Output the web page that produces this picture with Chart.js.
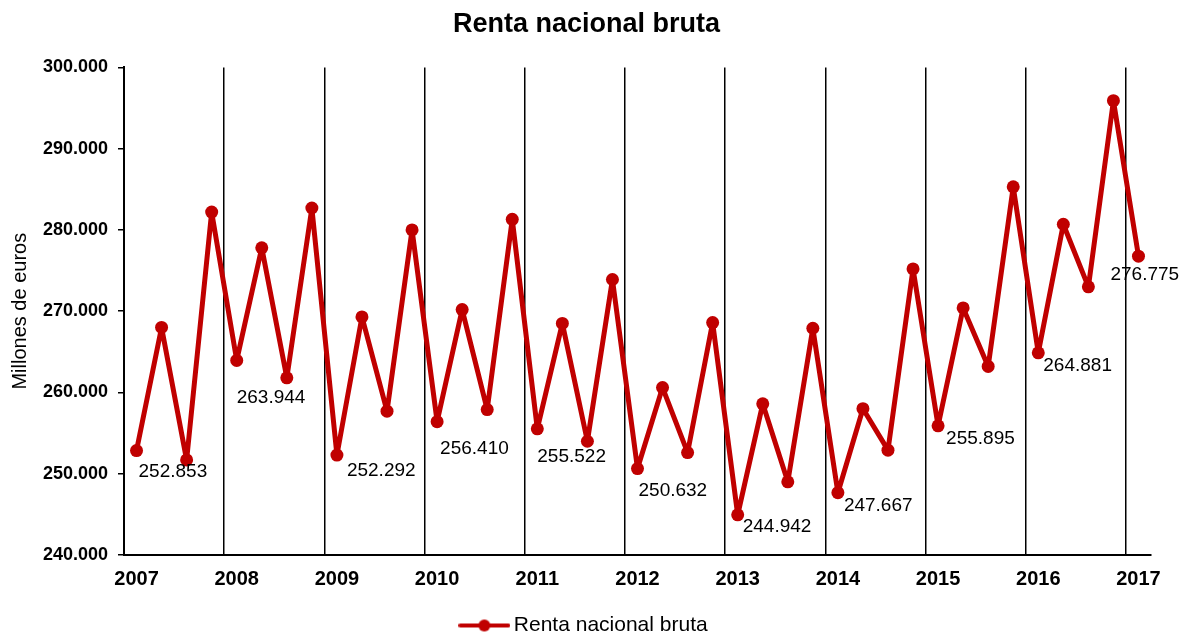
<!DOCTYPE html>
<html lang="es">
<head>
<meta charset="utf-8">
<title>Renta nacional bruta</title>
<script src="https://cdn.jsdelivr.net/npm/chart.js@4.4.1/dist/chart.umd.min.js"></script>
<style>
  html, body { margin: 0; padding: 0; background: #fff; }
  #wrap { position: relative; width: 1188px; height: 637px; }
</style>
</head>
<body>
<div id="wrap"><canvas id="rnbChart"></canvas></div>
<script>
// ── Data (millones de euros, trimestral) ─────────────────────────
const categories = [
    '2007 T1', '2007 T2', '2007 T3', '2007 T4',
    '2008 T1', '2008 T2', '2008 T3', '2008 T4',
    '2009 T1', '2009 T2', '2009 T3', '2009 T4',
    '2010 T1', '2010 T2', '2010 T3', '2010 T4',
    '2011 T1', '2011 T2', '2011 T3', '2011 T4',
    '2012 T1', '2012 T2', '2012 T3', '2012 T4',
    '2013 T1', '2013 T2', '2013 T3', '2013 T4',
    '2014 T1', '2014 T2', '2014 T3', '2014 T4',
    '2015 T1', '2015 T2', '2015 T3', '2015 T4',
    '2016 T1', '2016 T2', '2016 T3', '2016 T4',
    '2017 T1'
];

const rentaValues = [
    252853, 268000, 251700, 282200,
    263944, 277800, 261800, 282700,
    252292, 269300, 257700, 280000,
    256410, 270200, 257900, 281300,
    255522, 268500, 254000, 273900,
    250632, 260600, 252600, 268600,
    244942, 258600, 249000, 267900,
    247667, 258000, 252900, 275200,
    255895, 270400, 263200, 285300,
    264881, 280700, 273000, 295900,
    276775
];

const yearLabels = ['2007', '2008', '2009', '2010', '2011', '2012', '2013', '2014', '2015', '2016', '2017'];

const yMin  = 240000;
const yMax  = 300000;
const yStep = 10000;

(function () {
    'use strict';

    const FONT = "'Liberation Sans', Arial, Helvetica, sans-serif";
    const RED  = '#C00000';

    // thousands with a dot, e.g. 252853 -> 252.853
    function formatThousands(n) {
        return String(Math.round(n)).replace(/\B(?=(\d{3})+(?!\d))/g, '.');
    }

    // legend marker: line with a dot in the middle
    function makeLegendMarker() {
        const c = document.createElement('canvas');
        c.width = 52;
        c.height = 14;
        const g = c.getContext('2d');
        g.strokeStyle = RED;
        g.lineWidth = 4;
        g.lineCap = 'round';
        g.beginPath();
        g.moveTo(2, 7);
        g.lineTo(50, 7);
        g.stroke();
        g.fillStyle = RED;
        g.beginPath();
        g.arc(26, 7, 6, 0, Math.PI * 2);
        g.fill();
        return c;
    }

    // ── Value labels on the first quarter of each year ───────────
    const valueLabels = {
        id: 'valueLabels',
        afterDatasetsDraw(chart, args, opts) {
            const meta = chart.getDatasetMeta(0);
            const ctx = chart.ctx;
            ctx.save();
            ctx.font = opts.font;
            ctx.fillStyle = opts.color;
            ctx.textAlign = 'left';
            ctx.textBaseline = 'middle';
            opts.offsets.forEach(([i, dx, dy]) => {
                const pt = meta.data[i];
                if (!pt) return;
                ctx.fillText(formatThousands(rentaValues[i]), pt.x + dx, pt.y + dy);
            });
            ctx.restore();
        }
    };

    const marker = makeLegendMarker();

    new Chart(document.getElementById('rnbChart'), {
        type: 'line',
        data: {
            labels: categories,
            datasets: [{
                label: 'Renta nacional bruta',
                data: rentaValues,
                borderColor: RED,
                backgroundColor: RED,
                borderWidth: 5,
                borderJoinStyle: 'round',
                borderCapStyle: 'round',
                tension: 0,
                pointStyle: 'circle',
                pointRadius: 6.5,
                pointHoverRadius: 6.5,
                pointBackgroundColor: RED,
                pointBorderColor: RED,
                pointBorderWidth: 0,
                yAxisID: 'y',
            }],
        },
        options: {
            responsive: true,
            maintainAspectRatio: false,
            animation: false,
            devicePixelRatio: 1,
            layout: { padding: { left: 0, right: 15, top: 0, bottom: -9 } },
            plugins: {
                title: {
                    display: true,
                    text: 'Renta nacional bruta',
                    color: '#000',
                    font: { family: FONT, size: 27, weight: 'bold' },
                    padding: { top: 8, bottom: 27 },
                },
                legend: {
                    display: true,
                    position: 'bottom',
                    labels: {
                        color: '#000',
                        font: { family: FONT, size: 21 },
                        usePointStyle: true,
                        pointStyleWidth: 38,
                        padding: 2,
                        generateLabels: function () {
                            return [{
                                text: 'Renta nacional bruta',
                                pointStyle: marker,
                                fillStyle: RED,
                                strokeStyle: RED,
                                lineWidth: 0,
                                datasetIndex: 0,
                                fontColor: '#000',
                            }];
                        },
                    },
                },
                tooltip: { enabled: false },
                valueLabels: {
                    font: '19px ' + FONT,
                    color: '#000',
                    offsets: [
                        [0, 2, 21], [4, 0, 37], [8, 10, 16], [12, 3, 27],
                        [16, 0, 28], [20, 1, 22], [24, 5, 12], [28, 6, 13],
                        [32, 8, 13], [36, 5, 13], [40, -28, 19]
                    ],
                },
            },
            scales: {
                x: {
                    type: 'category',
                    offset: true,
                    grid: {
                        offset: true,
                        drawTicks: false,
                        lineWidth: 1.5,
                        color: function (c) {
                            if (c.index === undefined || c.index === 0) return 'rgba(0,0,0,0)';
                            return c.index % 4 === 0 ? '#000' : 'rgba(0,0,0,0)';
                        },
                    },
                    border: { display: true, color: '#000', width: 2 },
                    ticks: {
                        autoSkip: false,
                        maxRotation: 0,
                        minRotation: 0,
                        padding: 12,
                        color: '#000',
                        font: { family: FONT, size: 20, weight: 'bold' },
                        callback: function (v, i) {
                            return i % 4 === 0 ? yearLabels[i / 4] : '';
                        },
                    },
                    afterFit: function (s) { s.height = 58; },
                },
                y: {
                    type: 'linear',
                    position: 'left',
                    min: yMin,
                    max: yMax,
                    grid: {
                        drawOnChartArea: false,
                        drawTicks: true,
                        tickLength: 6,
                        color: '#000',
                        lineWidth: 1.5,
                    },
                    border: { display: true, color: '#000', width: 2 },
                    ticks: {
                        stepSize: yStep,
                        padding: 10,
                        color: '#000',
                        font: { family: FONT, size: 18, weight: 'bold' },
                        callback: function (v) { return formatThousands(v); },
                    },
                    title: {
                        display: true,
                        text: 'Millones de euros',
                        color: '#000',
                        font: { family: FONT, size: 20 },
                        padding: { top: 8, bottom: 0 },
                    },
                    afterFit: function (s) { s.width = 124; },
                },
                // empty spacer on the right so title/legend sit like the original
                pad: {
                    type: 'linear',
                    position: 'right',
                    display: true,
                    grid: { display: false, drawTicks: false },
                    border: { display: false },
                    ticks: { display: false },
                    afterFit: function (s) { s.width = 22; },
                },
            },
        },
        plugins: [valueLabels],
    });
})();
</script>
</body>
</html>
